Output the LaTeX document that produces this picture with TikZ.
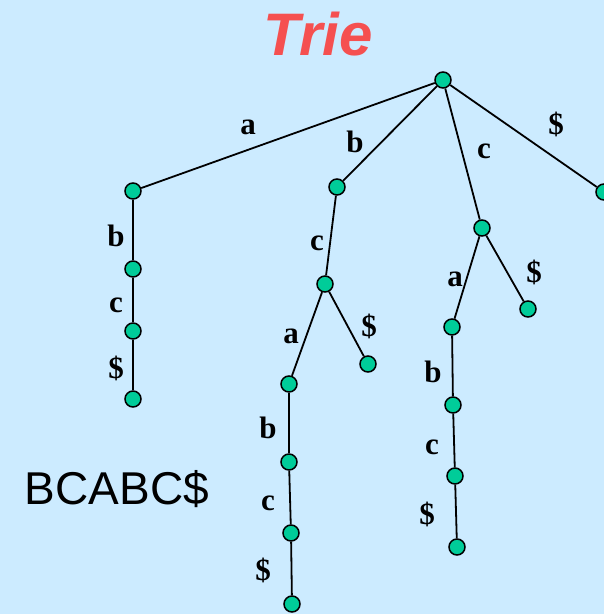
\documentclass[tikz,border=0pt]{standalone}
\usepackage{fontspec}
\setmainfont{Liberation Serif}
\newfontfamily\arialfont{Liberation Sans}
\definecolor{bgblue}{HTML}{CCEBFF}
\definecolor{nodegreen}{HTML}{00CC99}
\definecolor{titlered}{HTML}{F55050}
\tikzset{
  tnode/.style={circle,draw=black,fill=nodegreen,line width=1.5pt,minimum size=16pt,inner sep=0pt},
  edge/.style={draw=black,line width=1.8pt},
  lbl/.style={font=\fontsize{31}{31}\selectfont\bfseries,inner sep=0pt,text=black}
}
\begin{document}
\begin{tikzpicture}[x=1pt,y=-1pt]
\fill[bgblue] (0,0) rectangle (604,614);
\useasboundingbox (0,0) rectangle (604,614);
\node[font=\arialfont\fontsize{60}{60}\selectfont\bfseries\itshape,text=titlered,inner sep=0pt] (title) at (318,34) {Trie};
% nodes
\node[tnode] (r) at (443,80) {};
\node[tnode] (a1) at (133,191) {};
\node[tnode] (a2) at (133,269) {};
\node[tnode] (a3) at (133,331) {};
\node[tnode] (a4) at (133,399) {};
\node[tnode] (b1) at (337,187) {};
\node[tnode] (b2) at (325,284) {};
\node[tnode] (b3) at (289,384) {};
\node[tnode] (b4) at (289,462) {};
\node[tnode] (b5) at (291,533) {};
\node[tnode] (b6) at (292,604) {};
\node[tnode] (b7) at (368,364) {};
\node[tnode] (c1) at (482,228) {};
\node[tnode] (c2) at (452,327) {};
\node[tnode] (c3) at (453,405) {};
\node[tnode] (c4) at (455,476) {};
\node[tnode] (c5) at (457,547) {};
\node[tnode] (c6) at (528,309) {};
\node[tnode] (d1) at (604,192) {};
% edges
\draw[edge] (r) -- (a1);
\draw[edge] (r) -- (b1);
\draw[edge] (r) -- (c1);
\draw[edge] (r) -- (d1);
\draw[edge] (a1) -- (a2);
\draw[edge] (a2) -- (a3);
\draw[edge] (a3) -- (a4);
\draw[edge] (b1) -- (b2);
\draw[edge] (b2) -- (b3);
\draw[edge] (b3) -- (b4);
\draw[edge] (b4) -- (b5);
\draw[edge] (b5) -- (b6);
\draw[edge] (b2) -- (b7);
\draw[edge] (c1) -- (c2);
\draw[edge] (c2) -- (c3);
\draw[edge] (c3) -- (c4);
\draw[edge] (c4) -- (c5);
\draw[edge] (c1) -- (c6);
% labels
\node[lbl] (l1) at (248,127) {a};
\node[lbl] (l2) at (355,142) {b};
\node[lbl] (l3) at (484,151) {c};
\node[lbl] (l4) at (556,124) {\$};
\node[lbl] (l5) at (116,236) {b};
\node[lbl] (l6) at (116,305) {c};
\node[lbl] (l7) at (116,368) {\$};
\node[lbl] (l8) at (317,243) {c};
\node[lbl] (l9) at (291,336) {a};
\node[lbl] (l10) at (369,326) {\$};
\node[lbl] (l11) at (268,428) {b};
\node[lbl] (l12) at (268,503) {c};
\node[lbl] (l13) at (263,570) {\$};
\node[lbl] (l14) at (455,279) {a};
\node[lbl] (l15) at (534,272) {\$};
\node[lbl] (l16) at (433,372) {b};
\node[lbl] (l17) at (432,447) {c};
\node[lbl] (l18) at (427,514) {\$};
\node[font=\arialfont\fontsize{46}{46}\selectfont,inner sep=0pt] (word) at (117,489) {BCABC\$};
\end{tikzpicture}
\end{document}
